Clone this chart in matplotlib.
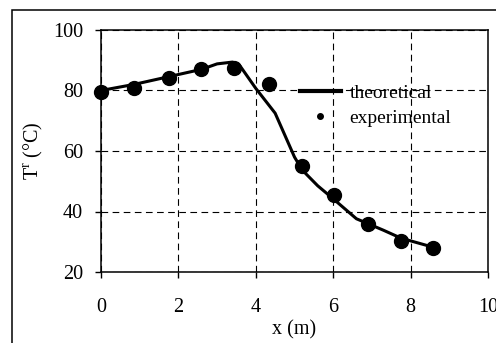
import matplotlib
matplotlib.use('Agg')
import matplotlib.pyplot as plt
from matplotlib.patches import Rectangle

plt.rcParams['font.family'] = ['Liberation Serif', 'DejaVu Serif']
plt.rcParams['mathtext.fontset'] = 'custom'
plt.rcParams['mathtext.rm'] = 'Liberation Serif'

# theoretical curve
x_theo = [0, 0.85, 1.76, 2.6, 3.0, 3.4, 3.6, 4.0, 4.5, 5.0, 5.2, 5.6, 6.0, 6.6, 7.3, 7.75, 8.58]
t_theo = [80, 82, 84.6, 87, 88.8, 89.4, 88, 80.7, 72.5, 58, 53.7, 48.5, 44.2, 37.6, 33.8, 31.2, 28.2]

# measured points
x_exp = [0, 0.85, 1.76, 2.58, 3.44, 4.34, 5.19, 6.03, 6.91, 7.75, 8.59]
t_exp = [79.5, 80.8, 84.2, 87.1, 87.3, 82.0, 55.1, 45.5, 35.8, 30.4, 27.8]

xticks = [0, 2, 4, 6, 8, 10]
yticks = [20, 40, 60, 80, 100]


def main():
    fig = plt.figure(figsize=(4.96, 3.43), dpi=100)
    ax = fig.add_axes([101 / 496, 71 / 343, 387 / 496, 242 / 343])

    # outer frame (cut by the image edge like in the original)
    fig.patches.append(Rectangle((12 / 496, -0.2), 1.2, 0.2 + 333 / 343,
                                 transform=fig.transFigure, fill=False,
                                 edgecolor='black', linewidth=1.1, clip_on=False))

    ax.plot(x_theo, t_theo, 'k-', linewidth=2.2, label='theoretical', zorder=3)
    ax.plot(x_exp, t_exp, 'ko', markersize=10, linestyle='none',
            label='experimental', zorder=4, clip_on=False)

    ax.set_xlim(0, 10)
    ax.set_ylim(20, 100)
    ax.set_xticks(xticks)
    ax.set_yticks(yticks)
    ax.grid(True, color='black', linestyle=(0, (6, 4)), linewidth=0.8)
    ax.set_axisbelow(True)

    ax.tick_params(axis='both', direction='out', length=4.5, width=1, labelsize=14.5)
    ax.tick_params(axis='x', pad=14)
    ax.tick_params(axis='y', pad=8.5)
    for s in ax.spines.values():
        s.set_linewidth(1.1)

    ax.set_xlabel('x (m)', fontsize=14.5)
    ax.xaxis.set_label_coords(0.5, -0.2)
    ax.set_ylabel(r'T$^{\mathregular{r}}$ (°C)', fontsize=14.5)
    ax.yaxis.set_label_coords(-0.145, 0.5)

    leg = ax.legend(loc='upper left', bbox_to_anchor=(0.514, 0.777), frameon=False,
                    fontsize=14, handlelength=2.1, handletextpad=0.45,
                    labelspacing=0.4, borderpad=0, borderaxespad=0, markerscale=0.4)
    leg.get_lines()[0].set_linewidth(3)

    fig.savefig('out.png', dpi=100)


if __name__ == '__main__':
    main()
